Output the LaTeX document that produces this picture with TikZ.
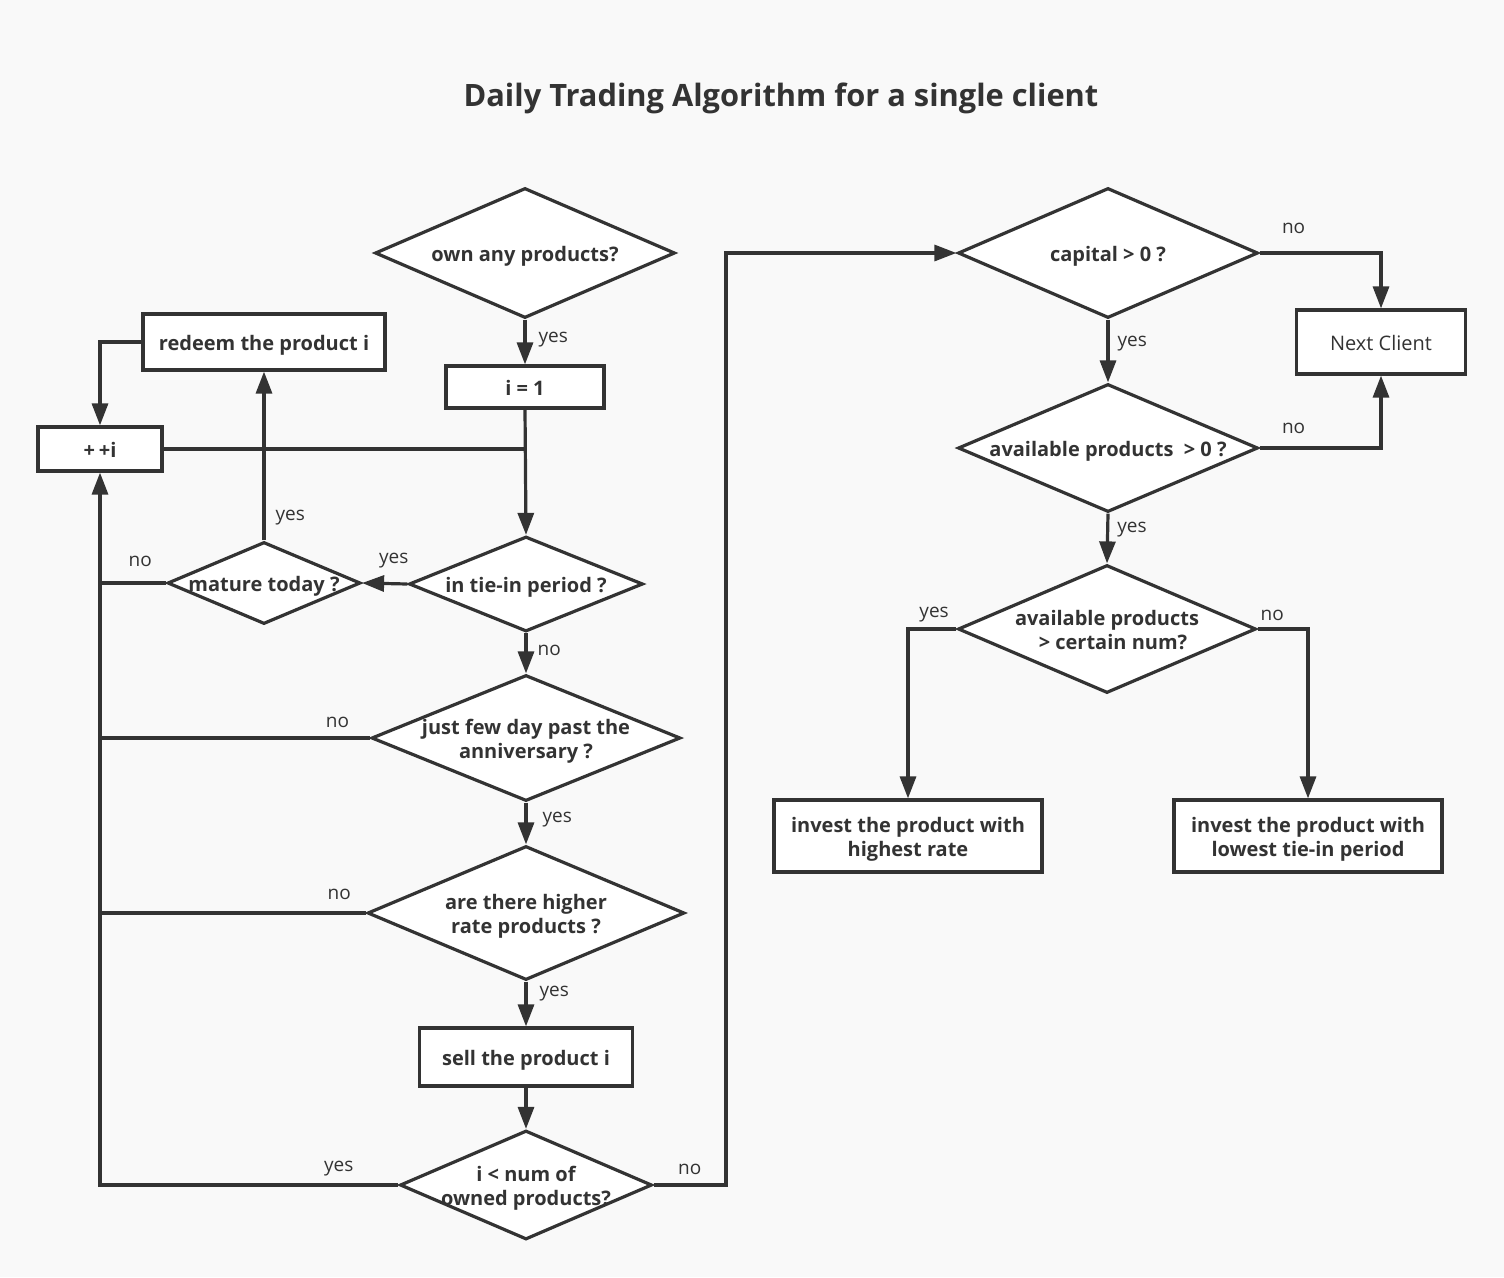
\documentclass[tikz,border=0pt]{standalone}
\usepackage{fontspec}
\setmainfont{Open Sans}
\usetikzlibrary{shapes.geometric,arrows.meta,calc}
\definecolor{ink}{HTML}{333333}
\definecolor{bgc}{HTML}{F9F9F9}
\newcommand\dtxt[1]{\makebox[0pt]{\raisebox{\dimexpr-0.25em-4pt\relax}[0pt][0pt]{\begin{tabular}{@{}c@{}}#1\end{tabular}}}}
\tikzset{
  dia/.style={diamond, draw=ink, fill=white, line width=3.2pt, inner sep=0pt,
    font=\bfseries\fontsize{20}{24}\selectfont, text=ink},
  box/.style={rectangle, draw=ink, fill=white, line width=3.2pt, inner sep=0pt,
    font=\bfseries\fontsize{20}{24}\selectfont, text=ink},
  conn/.style={draw=ink, line width=3.2pt},
  arr/.style={conn, -{Triangle[length=22pt,width=16pt]}},
  lbl/.style={font=\fontsize{19}{23}\selectfont, text=ink, inner sep=0pt, yshift=-3pt},
  ttl/.style={font=\bfseries\fontsize{30.8}{36}\selectfont, text=ink, inner sep=0pt},
}
\begin{document}
\begin{tikzpicture}[x=1pt,y=-1pt]
\fill[bgc] (0,0) rectangle (1504,1277);
\useasboundingbox (0,0) rectangle (1504,1277);

\node[ttl] (title) at (781,98) {Daily Trading Algorithm for a single client};

% left column
\node[dia, minimum width=300pt, minimum height=130pt] (own) at (525,253) {\dtxt{own any products?}};
\node[box, minimum width=158pt, minimum height=42pt] (i1) at (525,387) {\dtxt{i = 1}};
\node[box, minimum width=242pt, minimum height=56pt] (redeem) at (264,342) {\dtxt{redeem the product i}};
\node[box, minimum width=124pt, minimum height=44pt] (inc) at (100,449) {\dtxt{+\kern4pt+i}};
\node[dia, minimum width=234pt, minimum height=95pt] (tie) at (526,584) {\dtxt{in tie-in period ?}};
\node[dia, minimum width=193pt, minimum height=82pt] (mature) at (264,583) {\dtxt{mature today ?}};
\node[dia, minimum width=309pt, minimum height=126pt] (few) at (526,738) {\dtxt{just few day past the\\anniversary ?}};
\node[dia, minimum width=317pt, minimum height=134pt] (higher) at (526,913) {\dtxt{are there higher\\rate products ?}};
\node[box, minimum width=213pt, minimum height=58pt] (sell) at (526,1057) {\dtxt{sell the product i}};
\node[dia, minimum width=252pt, minimum height=109pt] (less) at (526,1185) {\dtxt{i < num of\\owned products?}};

% right column
\node[dia, minimum width=300pt, minimum height=130pt] (cap) at (1108,253) {\dtxt{capital > 0 ?}};
\node[box, minimum width=169pt, minimum height=64pt, font=\fontsize{20}{24}\selectfont] (next) at (1381,342) {\dtxt{Next Client}};
\node[dia, minimum width=300pt, minimum height=128pt] (avail) at (1108,448) {\dtxt{available products\ \ > 0 ?}};
\node[dia, minimum width=298pt, minimum height=128pt] (certain) at (1107,629) {\dtxt{available products\\\kern12pt> certain num?}};
\node[box, minimum width=268pt, minimum height=72pt] (inv1) at (908,836) {\dtxt{invest the product with\\highest rate}};
\node[box, minimum width=268pt, minimum height=72pt] (inv2) at (1308,836) {\dtxt{invest the product with\\lowest tie-in period}};

\coordinate (rail) at (726,0);

% connectors, left column
\draw[arr] (own.south) -- node[lbl, pos=0.38, anchor=west, xshift=12pt] {yes} (i1.north);
\draw[arr] (i1.south) -- (tie.north);
\draw[conn] (inc.east) -- (inc.east -| i1.south);
\draw[arr] (tie.west) -- node[lbl, pos=0.3, yshift=26pt] {yes} (mature.east);
\draw[arr] (mature.north) -- node[lbl, pos=0.15, anchor=west, xshift=10pt] {yes} (redeem.south);
\draw[arr] (redeem.west) -| (inc.north);
\draw[conn] (mature.west) -- node[lbl, pos=0.39, yshift=25pt] {no} (mature.west -| inc.south);
\draw[arr] (less.west) -| node[lbl, pos=0.1, yshift=19pt] {yes} (inc.south);
\draw[arr] (tie.south) -- node[lbl, pos=0.36, anchor=west, xshift=10pt] {no} (few.north);
\draw[conn] (few.west) -- node[lbl, pos=0.12, yshift=19pt] {no} (few.west -| inc.south);
\draw[arr] (few.south) -- node[lbl, pos=0.33, anchor=west, xshift=15pt] {yes} (higher.north);
\draw[conn] (higher.west) -- node[lbl, pos=0.1, yshift=22pt] {no} (higher.west -| inc.south);
\draw[arr] (higher.south) -- node[lbl, pos=0.21, anchor=west, xshift=12pt] {yes} (sell.north);
\draw[arr] (sell.south) -- (less.north);
\draw[arr] (less.east) -- node[lbl, pos=0.5, yshift=19pt] {no} (less.east -| rail) |- (cap.west);

% connectors, right column
\draw[arr] (cap.east) -| node[lbl, pos=0.14, yshift=28pt] {no} (next.north);
\draw[arr] (cap.south) -- node[lbl, pos=0.33, anchor=west, xshift=8pt] {yes} (avail.north);
\draw[arr] (avail.east) -| node[lbl, pos=0.14, yshift=23pt] {no} (next.south);
\draw[arr] (avail.south) -- node[lbl, pos=0.26, anchor=west, xshift=8pt] {yes} (certain.north);
\draw[arr] (certain.west) -| node[lbl, pos=0.23, yshift=17pt] {yes} (inv1.north);
\draw[arr] (certain.east) -| node[lbl, pos=0.145, yshift=17pt] {no} (inv2.north);
\end{tikzpicture}
\end{document}
